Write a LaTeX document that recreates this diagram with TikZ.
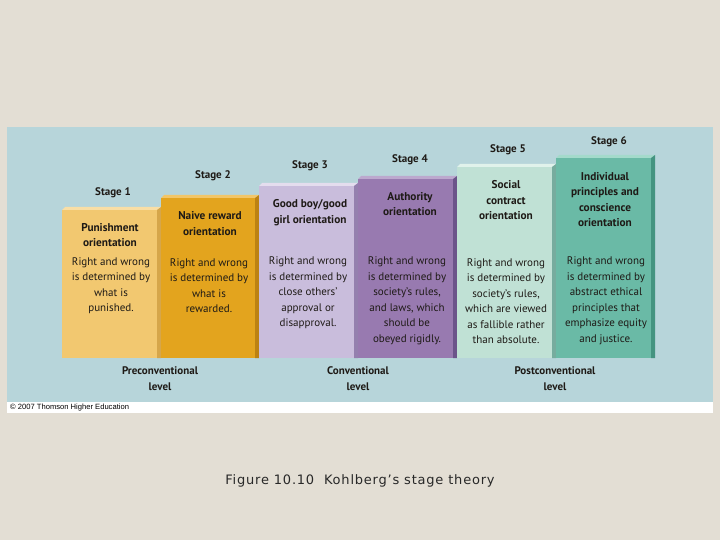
\documentclass[tikz,border=0pt]{standalone}
\usepackage{fontspec}
\setmainfont{PT Sans}
\newfontfamily\captionfont[LetterSpace=6]{DejaVu Sans}
\newfontfamily\creditfont{Liberation Sans}
\usetikzlibrary{positioning}
\definecolor{paper}{RGB}{227, 222, 212}
\definecolor{panel}{RGB}{183, 213, 218}
\definecolor{inkdark}{RGB}{30, 26, 22}
\definecolor{oneface}{RGB}{242, 200, 112}
\definecolor{onetop}{RGB}{249, 222, 165}
\definecolor{oneside}{RGB}{214, 166, 74}
\definecolor{twoface}{RGB}{227, 164, 30}
\definecolor{twotop}{RGB}{242, 198, 104}
\definecolor{twoside}{RGB}{188, 130, 18}
\definecolor{threeface}{RGB}{201, 189, 220}
\definecolor{threetop}{RGB}{228, 221, 238}
\definecolor{threeside}{RGB}{148, 128, 174}
\definecolor{fourface}{RGB}{152, 122, 176}
\definecolor{fourtop}{RGB}{188, 168, 206}
\definecolor{fourside}{RGB}{108, 84, 138}
\definecolor{fiveface}{RGB}{192, 225, 213}
\definecolor{fivetop}{RGB}{224, 242, 235}
\definecolor{fiveside}{RGB}{118, 172, 158}
\definecolor{sixface}{RGB}{106, 186, 166}
\definecolor{sixtop}{RGB}{164, 218, 203}
\definecolor{sixside}{RGB}{68, 148, 128}

\begin{document}
\begin{tikzpicture}[x=1pt, y=-1pt,
    stagelabel/.style={font=\bfseries\fontsize{11}{13}\selectfont, text=inkdark, inner sep=0pt},
    orientation/.style={font=\bfseries\fontsize{11.3}{15.5}\selectfont, text=inkdark, align=center, inner sep=0pt},
    rule/.style={font=\fontsize{11}{15.5}\selectfont, text=inkdark, align=center, inner sep=0pt},
    levellabel/.style={font=\bfseries\fontsize{11}{15.5}\selectfont, text=inkdark, align=center, inner sep=0pt}]
  \useasboundingbox (0,0) rectangle (720,540);
  \fill[paper] (0,0) rectangle (720,540);
  \fill[panel] (7,127) rectangle (713,402);
  \fill[white] (7,402) rectangle (713,413);

  % stage 1
  \fill[oneface] (62,210) rectangle (157,358);
  \fill[onetop] (62,210) -- (65,207) -- (161,207) -- (157,210) -- cycle;
  \fill[oneside] (157,210) -- (161,207) -- (161,358) -- (157,358) -- cycle;
  % stage 2
  \fill[twoface] (161,198) rectangle (255,358);
  \fill[twotop] (161,198) -- (164,195) -- (259,195) -- (255,198) -- cycle;
  \fill[twoside] (255,198) -- (259,195) -- (259,358) -- (255,358) -- cycle;
  % stage 3
  \fill[threeface] (259,186) rectangle (354,358);
  \fill[threetop] (259,186) -- (262,183) -- (358,183) -- (354,186) -- cycle;
  \fill[threeside] (354,186) -- (358,183) -- (358,358) -- (354,358) -- cycle;
  % stage 4
  \fill[fourface] (358,179) rectangle (453,358);
  \fill[fourtop] (358,179) -- (361,176) -- (457,176) -- (453,179) -- cycle;
  \fill[fourside] (453,179) -- (457,176) -- (457,358) -- (453,358) -- cycle;
  % stage 5
  \fill[fiveface] (457,167) rectangle (552,358);
  \fill[fivetop] (457,167) -- (460,164) -- (556,164) -- (552,167) -- cycle;
  \fill[fiveside] (552,167) -- (556,164) -- (556,358) -- (552,358) -- cycle;
  % stage 6
  \fill[sixface] (556,158) rectangle (651,358);
  \fill[sixtop] (556,158) -- (559,155) -- (655,155) -- (651,158) -- cycle;
  \fill[sixside] (651,158) -- (655,155) -- (655,358) -- (651,358) -- cycle;

  \node[stagelabel] (stageone) at (113,193) {Stage 1};
  \node[stagelabel] (stagetwo) at (213,176) {Stage 2};
  \node[stagelabel] (stagethree) at (310,166) {Stage 3};
  \node[stagelabel] (stagefour) at (410,160) {Stage 4};
  \node[stagelabel] (stagefive) at (508,150) {Stage 5};
  \node[stagelabel] (stagesix) at (609,142) {Stage 6};

  \node[orientation] (punish) at (110,235) {Punishment\\orientation};
  \node[orientation] (reward) at (210,223.5) {Naive reward\\orientation};
  \node[orientation] (goodboy) at (310,212.5) {Good boy/good\\girl orientation};
  \node[orientation] (authority) at (410,204) {Authority\\orientation};
  \node[orientation] (contract) at (506,200.5) {Social\\contract\\orientation};
  \node[orientation] (conscience) at (605,199.5) {Individual\\principles and\\conscience\\orientation};

  \node[rule] (ruleone) at (111,285.5) {Right and wrong\\is determined by\\what is\\punished.};
  \node[rule] (ruletwo) at (209,285.5) {Right and wrong\\is determined by\\what is\\rewarded.};
  \node[rule] (rulethree) at (308,293) {Right and wrong\\is determined by\\close others'\\approval or\\disapproval.};
  \node[rule] (rulefour) at (407,301) {Right and wrong\\is determined by\\society's rules,\\and laws, which\\should be\\obeyed rigidly.};
  \node[rule] (rulefive) at (506,301) {Right and wrong\\is determined by\\society's rules,\\which are viewed\\as fallible rather\\than absolute.};
  \node[rule] (rulesix) at (606,301) {Right and wrong\\is determined by\\abstract ethical\\principles that\\emphasize equity\\and justice.};

  \node[levellabel] (preconv) at (160,378.5) {Preconventional\\level};
  \node[levellabel] (conv) at (358,378.5) {Conventional\\level};
  \node[levellabel] (postconv) at (555,378.5) {Postconventional\\level};

  \node[anchor=west, inner sep=0pt, font=\creditfont\fontsize{7.6}{8}\selectfont] (credit) at (10,408) {© 2007 Thomson Higher Education};
  \node[inner sep=0pt, text={rgb,255:red,40;green,40;blue,40}, font=\captionfont\fontsize{13}{15}\selectfont] (caption) at (360,481) {Figure 10.10\ \ Kohlberg’s stage theory};
\end{tikzpicture}
\end{document}
